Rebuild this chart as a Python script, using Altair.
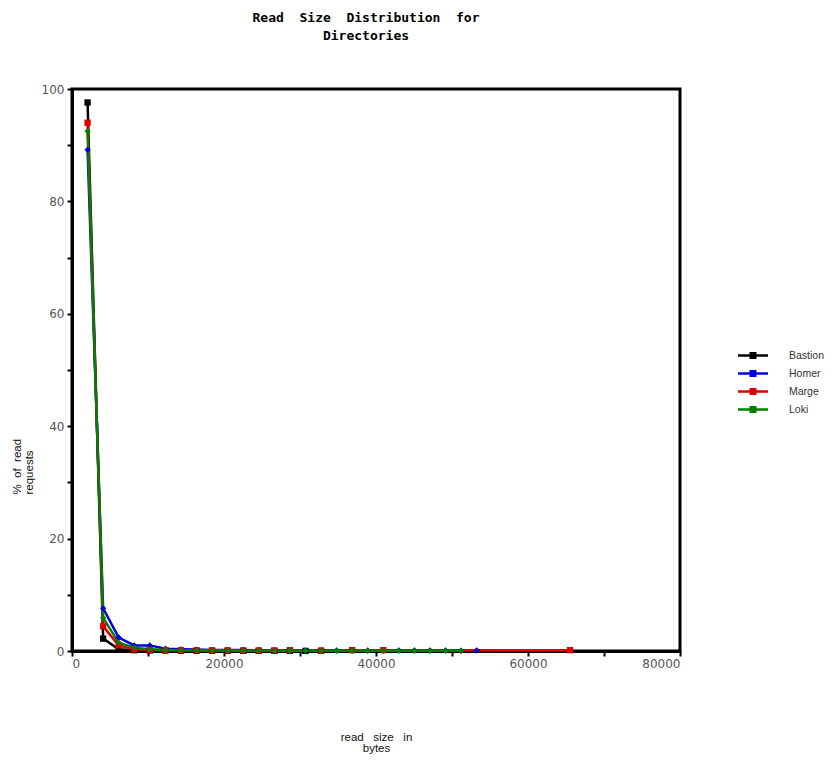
import altair as alt
import pandas as pd

series_names = ["Bastion", "Homer", "Marge", "Loki"]
series_colors = ["#000000", "#0000dd", "#dd0000", "#008000"]

bastion_x = [2048, 4096, 6144, 8192, 10240, 12288, 14336, 16384, 18432, 20480, 22528, 24576, 26624, 28672, 30720, 32768]
bastion_y = [97.6, 2.2, 0.3, 0.15, 0.1, 0.08, 0.06, 0.05, 0.05, 0.04, 0.04, 0.03, 0.03, 0.03, 0.02, 0.02]

homer_x = [2048 * k for k in range(1, 27)]
homer_y = [89.2, 7.6, 2.4, 1.0, 1.0, 0.4, 0.3, 0.25, 0.2, 0.2, 0.18, 0.15, 0.15, 0.12, 0.12,
           0.1, 0.1, 0.12, 0.1, 0.1, 0.12, 0.12, 0.12, 0.1, 0.08, 0.12]

marge_x = [2048, 4096, 6144, 8192, 10240, 12288, 14336, 16384, 18432, 20480, 22528, 24576, 26624, 28672, 32768, 36864, 40960, 65536]
marge_y = [94.0, 4.4, 1.0, 0.3, 0.2, 0.15, 0.12, 0.1, 0.1, 0.1, 0.08, 0.08, 0.08, 0.15, 0.06, 0.15, 0.15, 0.15]

loki_x = [2048 * k for k in range(1, 26)]
loki_y = [92.5, 5.9, 1.5, 0.6, 0.3, 0.2, 0.15, 0.1, 0.08, 0.08, 0.06, 0.06, 0.05, 0.05, 0.05,
          0.04, 0.04, 0.04, 0.04, 0.03, 0.03, 0.03, 0.03, 0.03, 0.03]

x_ticks = [0, 10000, 20000, 30000, 40000, 50000, 60000, 70000, 80000]
y_ticks = [0, 10, 20, 30, 40, 50, 60, 70, 80, 90, 100]

NB = "\u00a0"
title_lines = [f"Read{NB*2}Size{NB*2}Distribution{NB*2}for", "Directories"]
x_title = [f"read{NB*3}size{NB*3}in", "bytes"]
y_title = [f"%{NB*2}of{NB*2}read", "requests"]

rows = []
for name, xs, ys in [("Bastion", bastion_x, bastion_y), ("Homer", homer_x, homer_y),
                     ("Marge", marge_x, marge_y), ("Loki", loki_x, loki_y)]:
    for x, y in zip(xs, ys):
        rows.append({"series": name, "marker": name, "size": x, "pct": y})
df = pd.DataFrame(rows)

x_enc = alt.X("size:Q", scale=alt.Scale(domain=[0, 80000], nice=False),
              axis=alt.Axis(values=x_ticks, format="d",
                            labelExpr="datum.value % 20000 == 0 ? datum.label : ''",
                            title=x_title, titleX=304, titleY=80,
                            titleBaseline="top", titleFontWeight="normal", titleFontSize=11.5,
                            titleLineHeight=11,
                            titleColor="#111", titleFont="Liberation Sans",
                            labelFontSize=12, labelColor="#555", labelFont="DejaVu Sans",
                            grid=False, domainWidth=3, domainColor="#000", tickColor="#000",
                            tickWidth=2, tickSize=5, labelPadding=2))
y_enc = alt.Y("pct:Q", scale=alt.Scale(domain=[0, 100], nice=False),
              axis=alt.Axis(values=y_ticks,
                            labelExpr="datum.value % 20 == 0 ? datum.label : ''",
                            title=y_title, titleX=-50, titleY=405,
                            titleAngle=-90, titleAlign="left", titleBaseline="bottom",
                            titleFontWeight="normal", titleFontSize=11.5, titleColor="#111",
                            titleLineHeight=12,
                            titleFont="Liberation Sans",
                            labelFontSize=12, labelColor="#555", labelFont="DejaVu Sans",
                            grid=False, domainWidth=3, domainColor="#000", tickColor="#000",
                            tickWidth=2, tickSize=5, labelPadding=3))

color_scale = alt.Scale(domain=series_names, range=series_colors)

lines = alt.Chart(df).mark_line(strokeWidth=2.5).encode(
    x=x_enc, y=y_enc,
    color=alt.Color("series:N", scale=color_scale, sort=series_names,
                    legend=alt.Legend(title=None, orient="none", legendX=672, legendY=257.5,
                                      symbolType="M-2,0H2M-0.3,-0.3H0.3V0.3H-0.3Z",
                                      symbolSize=225, symbolStrokeWidth=2.5,
                                      labelFontSize=10.5, labelColor="#333",
                                      labelFont="Liberation Sans", rowPadding=1,
                                      labelOffset=27)),
)

shape_scale = alt.Scale(domain=series_names, range=["square", "diamond", "square", "diamond"])
points = alt.Chart(df).mark_point(filled=True, size=40, opacity=1).encode(
    x="size:Q", y="pct:Q",
    color=alt.Color("marker:N", scale=color_scale, legend=None),
    shape=alt.Shape("marker:N", scale=shape_scale, legend=None),
)

chart = alt.layer(lines, points).resolve_scale(color="independent").resolve_legend(
    color="independent").properties(
    width=608, height=562,
    title=alt.TitleParams(title_lines,
                          font="DejaVu Sans Mono", fontSize=13, fontWeight="bold",
                          color="#000", anchor="middle", offset=40, dx=-10, lineHeight=18),
    autosize=alt.AutoSizeParams(type="none"),
    padding={"left": 64, "top": 81, "right": 150, "bottom": 106},
).configure_view(stroke="#000", strokeWidth=3)

chart.save("out.html", embed_options={"renderer": "svg", "actions": False})
